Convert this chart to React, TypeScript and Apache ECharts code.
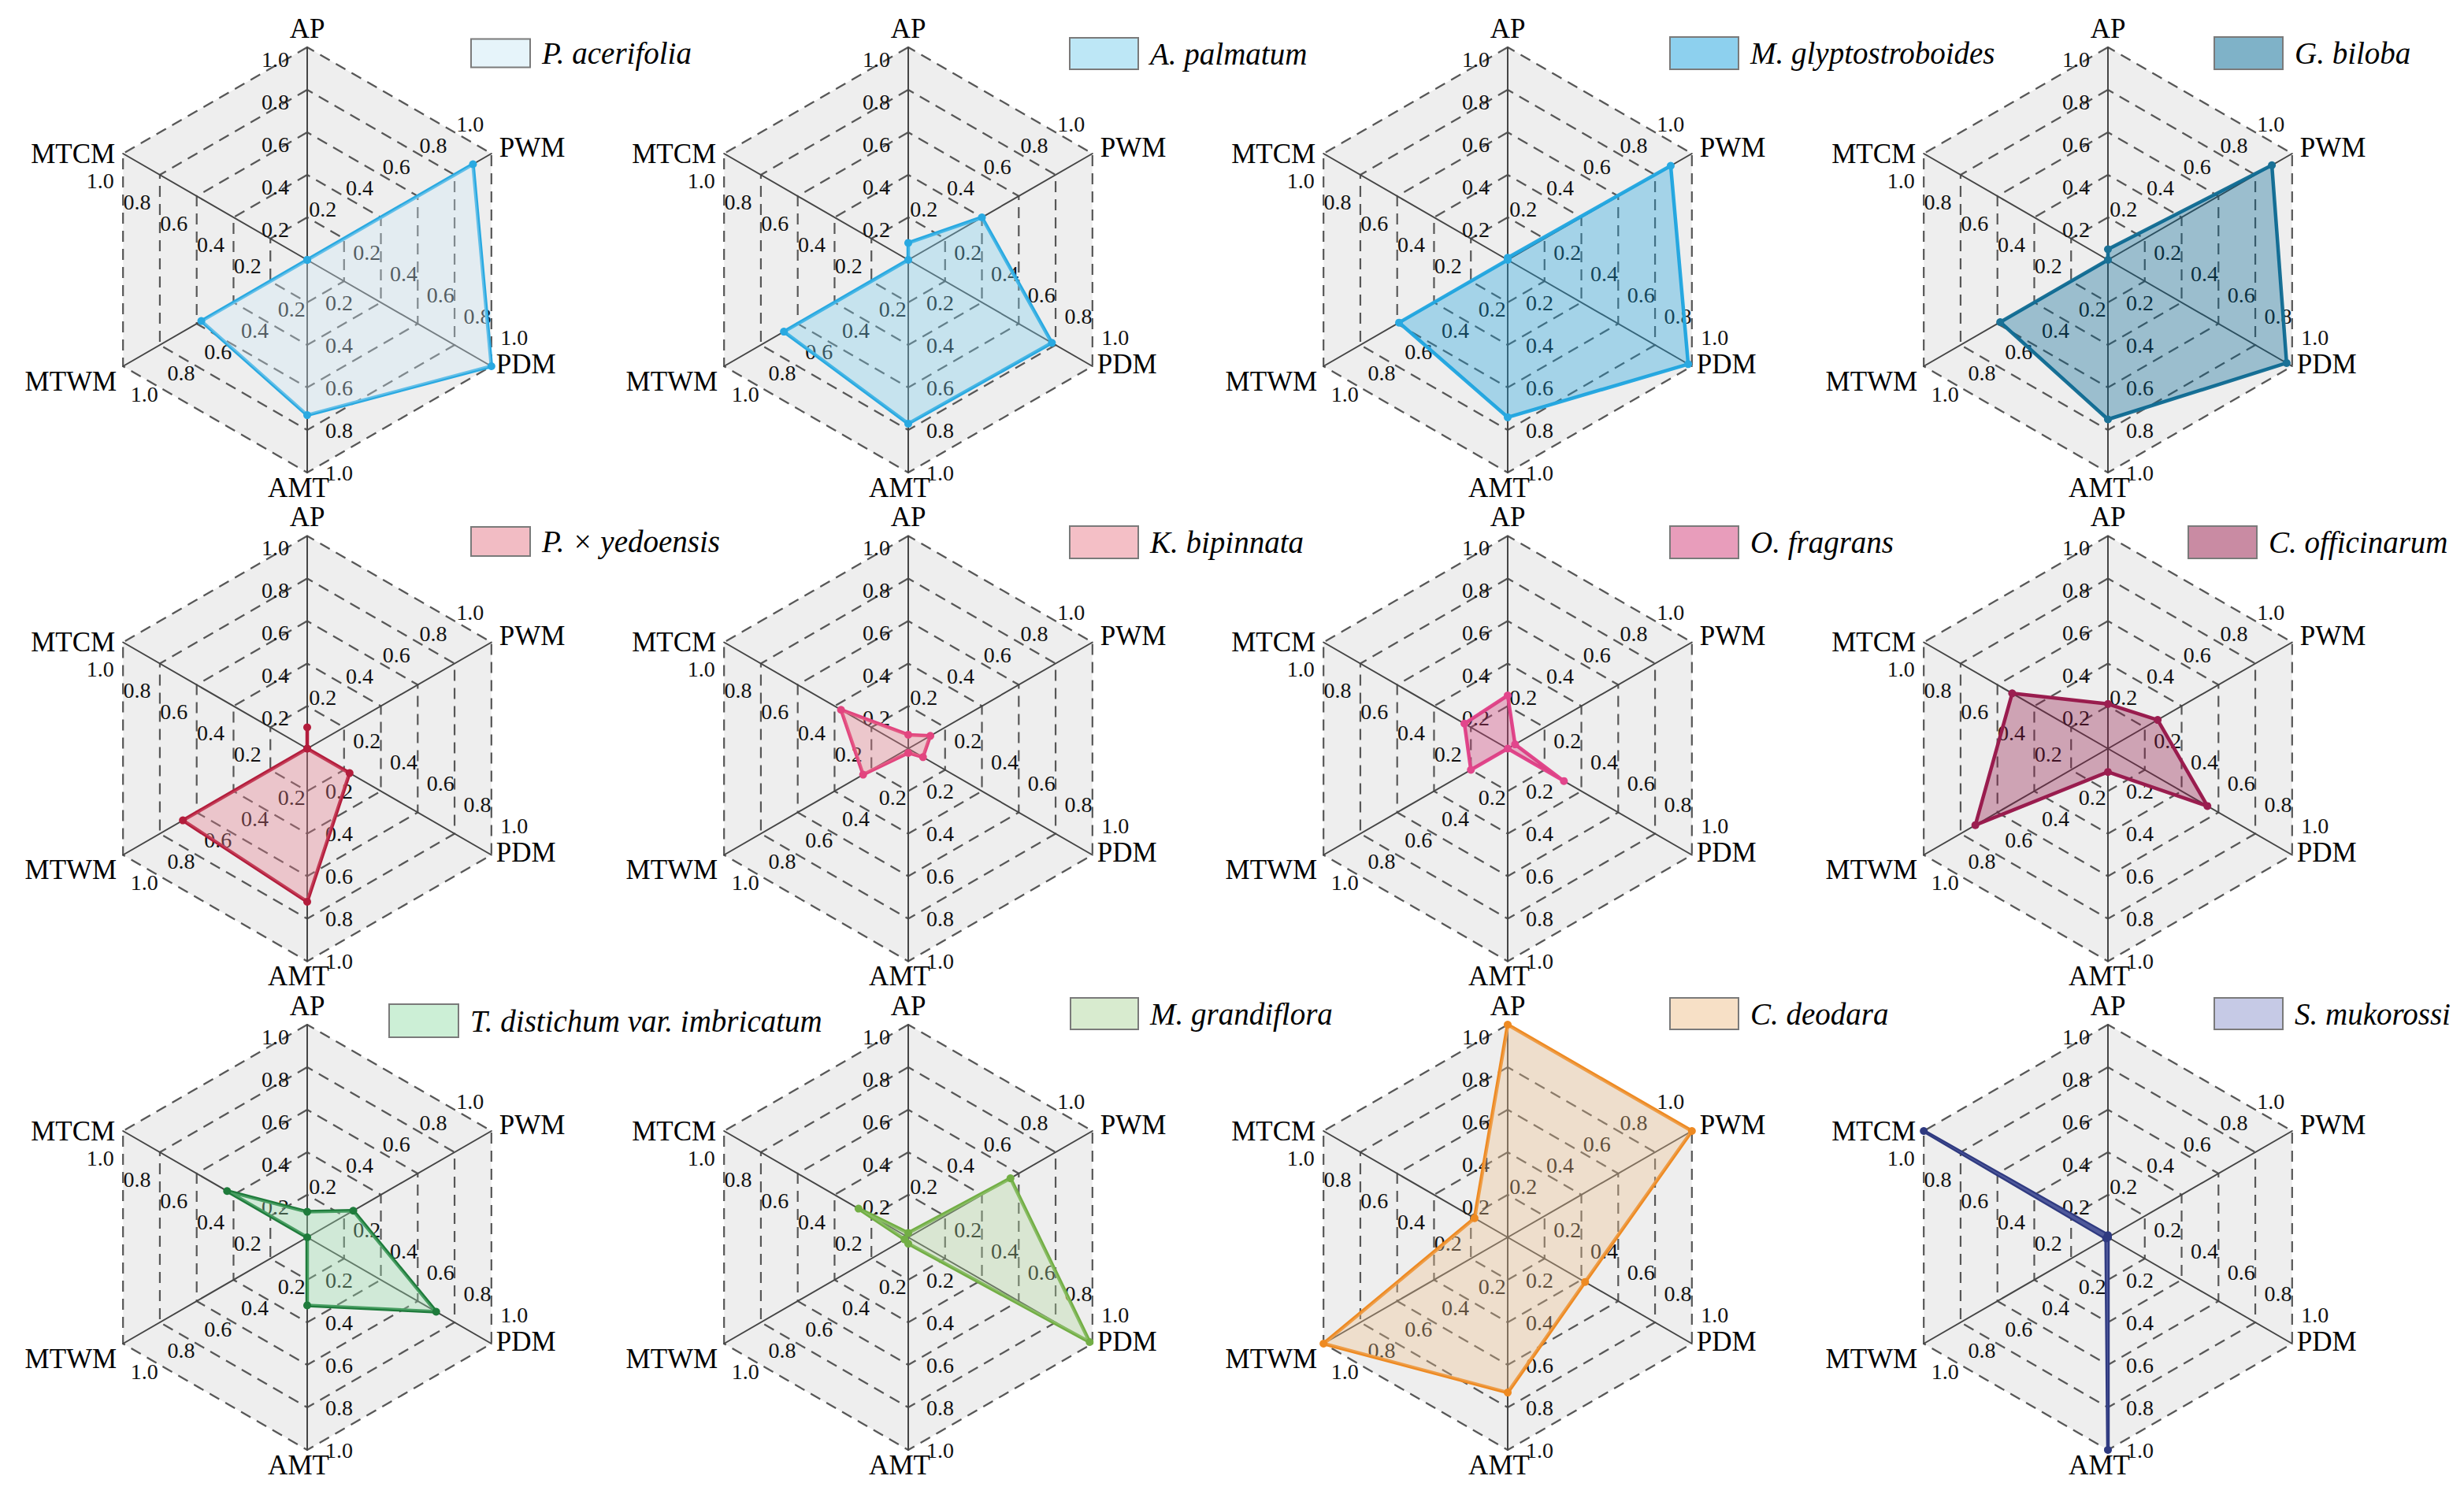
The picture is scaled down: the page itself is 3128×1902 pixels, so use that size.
import React, { useEffect, useRef } from 'react';
import * as echarts from 'echarts';

// Axes, listed clockwise from the top
const INDICATORS = ['AP', 'PWM', 'PDM', 'AMT', 'MTWM', 'MTCM'];
// Tick values along every axis
const TICKS = [0, 0.2, 0.4, 0.6, 0.8, 1.0];

const SPECIES = [
  'P. acerifolia', 'A. palmatum', 'M. glyptostroboides', 'G. biloba',
  'P. × yedoensis', 'K. bipinnata', 'O. fragrans', 'C. officinarum',
  'T. distichum var. imbricatum', 'M. grandiflora', 'C. deodara', 'S. mukorossi',
];

// Values in the order AP, PWM, PDM, AMT, MTWM, MTCM
const acerifolia = [0.0, 0.9, 1.0, 0.73, 0.575, 0.0];
const palmatum = [0.08, 0.4, 0.78, 0.77, 0.675, 0.0];
const glyptostroboides = [0.01, 0.885, 0.98, 0.74, 0.59, 0.0];
const biloba = [0.05, 0.89, 0.97, 0.75, 0.585, 0.0];
const yedoensis = [0.1, 0.0, 0.23, 0.72, 0.675, 0.0];
const bipinnata = [0.065, 0.12, 0.08, 0.02, 0.245, 0.365];
const fragrans = [0.25, 0.04, 0.305, 0.0, 0.2, 0.235];
const officinarum = [0.21, 0.27, 0.54, 0.11, 0.72, 0.52];
const imbricatum = [0.12, 0.25, 0.7, 0.32, 0.0, 0.435];
const grandiflora = [0.02, 0.555, 0.985, 0.03, 0.02, 0.27];
const deodara = [1.0, 1.0, 0.42, 0.73, 1.0, 0.18];
const mukorossi = [0.01, 0.0, 0.0, 1.0, 0.01, 1.0];

const VALUES = [
  acerifolia, palmatum, glyptostroboides, biloba,
  yedoensis, bipinnata, fragrans, officinarum,
  imbricatum, grandiflora, deodara, mukorossi,
];

const LINE_COLORS = [
  '#29a9e1', '#29a9e1', '#29a9e1', '#1a7196',
  '#b31d3c', '#e2457f', '#e2468c', '#9b1e50',
  '#1e7b3b', '#72ae44', '#ee8a22', '#2f3a80',
];
const FILL_COLORS = [
  'rgba(205,233,245,0.5)', 'rgba(123,207,237,0.5)', 'rgba(27,161,221,0.5)', 'rgba(0,101,145,0.5)',
  'rgba(229,121,137,0.5)', 'rgba(233,127,141,0.5)', 'rgba(209,59,119,0.5)', 'rgba(147,23,71,0.5)',
  'rgba(153,223,173,0.5)', 'rgba(177,215,159,0.5)', 'rgba(239,193,141,0.5)', 'rgba(141,149,205,0.5)',
];

// ---- Layout (pixels) ----
const COL_X = [390, 1153, 1914, 2676];
const ROW_Y = [330, 950.5, 1571];
const RADIUS = 270;
// legend box: left, top, width, height
const LEGEND_BOX = [
  [597, 48, 75, 36], [1357, 47, 87, 40], [2119, 46, 87, 41], [2810, 46, 87, 41],
  [597, 668, 75, 37], [1357, 667, 87, 41], [2119, 667, 87, 41], [2777, 667, 87, 41],
  [493, 1274, 88, 42], [1358, 1266, 86, 40], [2119, 1266, 87, 40], [2810, 1266, 87, 40],
];
// axis-name placement relative to each axis end (dx, dy, align), same order as INDICATORS
const NAME_OFFSET: [number, number, string][] = [
  [0, -24, 'center'], [10, -8, 'left'], [6, -3, 'left'],
  [-11, 19, 'center'], [-8, 19, 'right'], [-10, 0, 'right'],
];
// tick-label placement relative to each tick (dx, dy, align)
const LABEL_OFFSET: [number, number, string][] = [
  [-23, 15, 'right'], [-27, -38, 'center'], [29, -37, 'center'],
  [23, 0, 'left'], [27, 35, 'center'], [-29, 34, 'center'],
];

// ECharts places indicators counter-clockwise from the top
const CCW = [0, 5, 4, 3, 2, 1];
const SERIF = '"Liberation Serif", "Times New Roman", serif';

export default function App() {
  const ref = useRef<HTMLDivElement>(null);
  useEffect(() => {
    if (!ref.current) return;
    const chart = echarts.init(ref.current, undefined, { renderer: 'svg' });
    const minV = TICKS[0];
    const maxV = TICKS[TICKS.length - 1];

    const centers = SPECIES.map((_, i) => [COL_X[i % 4], ROW_Y[Math.floor(i / 4)]]);

    const radar = SPECIES.map((_, i) => ({
      center: centers[i],
      radius: RADIUS,
      startAngle: 90,
      shape: 'polygon',
      splitNumber: TICKS.length - 1,
      z: 0,
      indicator: CCW.map((k) => ({ name: INDICATORS[k], min: minV, max: maxV })),
      axisName: { show: false },
      axisLine: { show: true, lineStyle: { color: '#454545', width: 2 } },
      axisTick: { show: false },
      axisLabel: { show: false },
      splitLine: { show: true, lineStyle: { color: '#575757', width: 2.2, type: [14, 9] } },
      splitArea: { show: true, areaStyle: { color: ['#eeeeee'] } },
    }));

    const series = SPECIES.map((name, i) => ({
      type: 'radar',
      name,
      radarIndex: i,
      z: 2,
      symbol: 'circle',
      symbolSize: 10,
      lineStyle: { color: LINE_COLORS[i], width: 4.5 },
      itemStyle: { color: LINE_COLORS[i] },
      areaStyle: { color: FILL_COLORS[i] },
      emphasis: { disabled: true },
      data: [{ name, value: CCW.map((k) => VALUES[i][k]) }],
    }));

    const legend = SPECIES.map((name, i) => ({
      data: [name],
      left: LEGEND_BOX[i][0],
      top: LEGEND_BOX[i][1],
      itemWidth: LEGEND_BOX[i][2],
      itemHeight: LEGEND_BOX[i][3],
      padding: 0,
      icon: 'rect',
      itemStyle: { color: FILL_COLORS[i], borderColor: '#7a7a7a', borderWidth: 2 },
      textStyle: {
        fontFamily: SERIF,
        fontStyle: 'italic',
        fontSize: 39,
        color: '#000',
        padding: [0, 0, 0, 10],
      },
    }));

    // Axis names and tick labels, placed from each radar's centre and radius
    const texts: any[] = [];
    centers.forEach(([cx, cy]) => {
      INDICATORS.forEach((axisName, k) => {
        const ang = ((90 - 60 * k) * Math.PI) / 180;
        const ux = Math.cos(ang);
        const uy = -Math.sin(ang);
        const [ndx, ndy, nAlign] = NAME_OFFSET[k];
        texts.push({
          type: 'text',
          x: cx + ux * RADIUS + ndx,
          y: cy + uy * RADIUS + ndy,
          z: 5,
          silent: true,
          style: {
            text: axisName,
            fill: '#000',
            fontSize: 35,
            fontFamily: SERIF,
            align: nAlign,
            verticalAlign: 'middle',
          },
        });
        const [ldx, ldy, lAlign] = LABEL_OFFSET[k];
        TICKS.forEach((t) => {
          if (t === minV) return;
          const r = ((t - minV) / (maxV - minV)) * RADIUS;
          texts.push({
            type: 'text',
            x: cx + ux * r + ldx,
            y: cy + uy * r + ldy,
            z: 1,
            silent: true,
            style: {
              text: t.toFixed(1),
              fill: '#111',
              fontSize: 28,
              fontFamily: SERIF,
              align: lAlign,
              verticalAlign: 'middle',
            },
          });
        });
      });
    });

    chart.setOption({
      animation: false,
      backgroundColor: '#ffffff',
      textStyle: { fontFamily: SERIF },
      radar,
      legend,
      series,
      graphic: { elements: texts },
    } as any);
    return () => chart.dispose();
  }, []);
  return (
    <div
      ref={ref}
      style={{ position: 'fixed', left: 0, top: 0, width: 3128, height: 1902, background: '#fff' }}
    />
  );
}
